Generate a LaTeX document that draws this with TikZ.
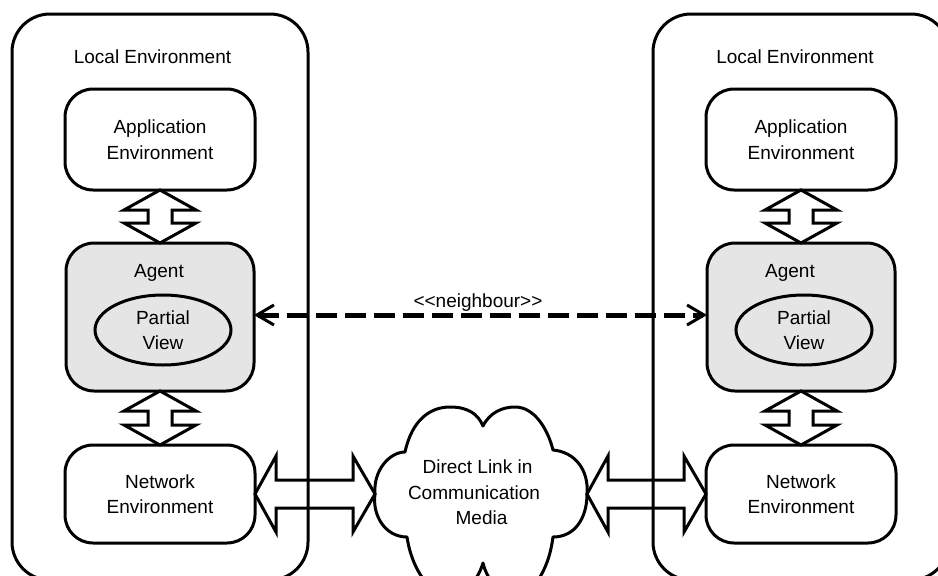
\documentclass[tikz,border=0pt]{standalone}
\usepackage{fontspec}
\setmainfont{Liberation Sans}
\usetikzlibrary{arrows.meta,shapes.geometric,calc}
\newcommand\vblock[2]{\draw[blockarrow] let \p1=(#1.south), \p2=(#2.north) in
  (\x1,\y1) -- ++(-36pt,-20pt) -- ++(24pt,0pt) -- (\x1-12pt,\y2+20pt) -- ++(-24pt,0pt)
  -- (\x1,\y2) -- ++(36pt,20pt) -- ++(-24pt,0pt) -- (\x1+12pt,\y1-20pt) -- ++(24pt,0pt) -- cycle;}
\newcommand\hblock[2]{\draw[blockarrow] let \p1=(#1), \p2=(#2) in
  (\x1,\y1) -- ++(21pt,38pt) -- ++(0pt,-24pt) -- (\x2-22pt,\y1+14pt) -- ++(0pt,24pt)
  -- (\x2,\y1) -- ++(-22pt,-38pt) -- ++(0pt,24pt) -- (\x1+21pt,\y1-14pt) -- ++(0pt,-24pt) -- cycle;}
\begin{document}
\begin{tikzpicture}[x=1pt,y=-1pt,
  every node/.style={font=\fontsize{19}{25.5}\selectfont, inner sep=0pt, outer sep=0pt},
  bigbox/.style={draw, line width=3pt, rounded corners=38pt, minimum width=296pt, minimum height=566pt},
  envbox/.style={draw, line width=3pt, rounded corners=28pt, minimum width=190pt, minimum height=101pt, align=center},
  agentbox/.style={envbox, fill=gray!20, minimum width=188pt, minimum height=148pt},
  viewell/.style={draw, ellipse, line width=3pt, fill=gray!20, minimum width=136pt, minimum height=70pt, align=center},
  lbl/.style={anchor=base},
  blockarrow/.style={line width=3pt, line join=miter},
  cloudline/.style={line width=3pt, line join=round},
  barb/.tip={Straight Barb[length=17pt,width=20pt,line width=3pt]},
  neigh/.style={line width=5pt, dash pattern=on 21pt off 8pt, barb-barb},
]
\useasboundingbox (0,0) rectangle (938,576);
\clip (0,0) rectangle (938,576);

% left local environment
\node[bigbox] (localL) at (160,297) {};
\node[lbl] (ltitleL) at (152.5,63) {Local Environment};
\node[envbox] (appL) at (160,139.5) {Application\\Environment};
\node[agentbox] (agentL) at (160,317) {};
\node[lbl] (agtL) at (159,277) {Agent};
\node[viewell] (pvL) at (163,330) {Partial\\View};
\node[envbox, minimum height=98pt] (netL) at (160,494) {Network\\Environment};

% right local environment
\node[bigbox] (localR) at (801,297) {};
\node[lbl] (ltitleR) at (795,63) {Local Environment};
\node[envbox] (appR) at (801,139.5) {Application\\Environment};
\node[agentbox] (agentR) at (801,317) {};
\node[lbl] (agtR) at (790,277) {Agent};
\node[viewell] (pvR) at (804,330) {Partial\\View};
\node[envbox, minimum height=98pt] (netR) at (801,494) {Network\\Environment};

% cloud
\coordinate (cloudW) at (375,494);
\coordinate (cloudE) at (587,494);
\draw[cloudline] (407,537) .. controls (385,537) and (372,515) .. (cloudW)
  .. controls (373,470) and (390,452) .. (405,452)
  .. controls (412,420) and (430,407) .. (450,407)
  .. controls (468,407) and (478,414) .. (483,426)
  .. controls (490,412) and (503,407) .. (515,407)
  .. controls (535,407) and (548,430) .. (553,450)
  .. controls (575,452) and (589,470) .. (cloudE)
  .. controls (587,518) and (575,537) .. (553,537)
  .. controls (548,575) and (530,595) .. (515,595)
  .. controls (500,595) and (487,580) .. (483,563)
  .. controls (478,580) and (465,595) .. (450,595)
  .. controls (430,595) and (412,570) .. (407,537) -- cycle;
\node[align=center] (cloudtxt) at (474,492.5) {\hspace*{7pt}Direct Link in\\Communication\\\hspace*{15pt}Media};

% block arrows
\vblock{appL}{agentL}
\vblock{agentL}{netL}
\vblock{appR}{agentR}
\vblock{agentR}{netR}
\hblock{netL.east}{cloudW}
\hblock{cloudE}{netR.west}

% neighbour relation
\draw[neigh] ([yshift=2pt]agentL.east) -- ([yshift=2pt]agentR.west);
\node[lbl] (nlabel) at (478,307) {<\kern0pt<neighbour>\kern0pt>};
\end{tikzpicture}
\end{document}
